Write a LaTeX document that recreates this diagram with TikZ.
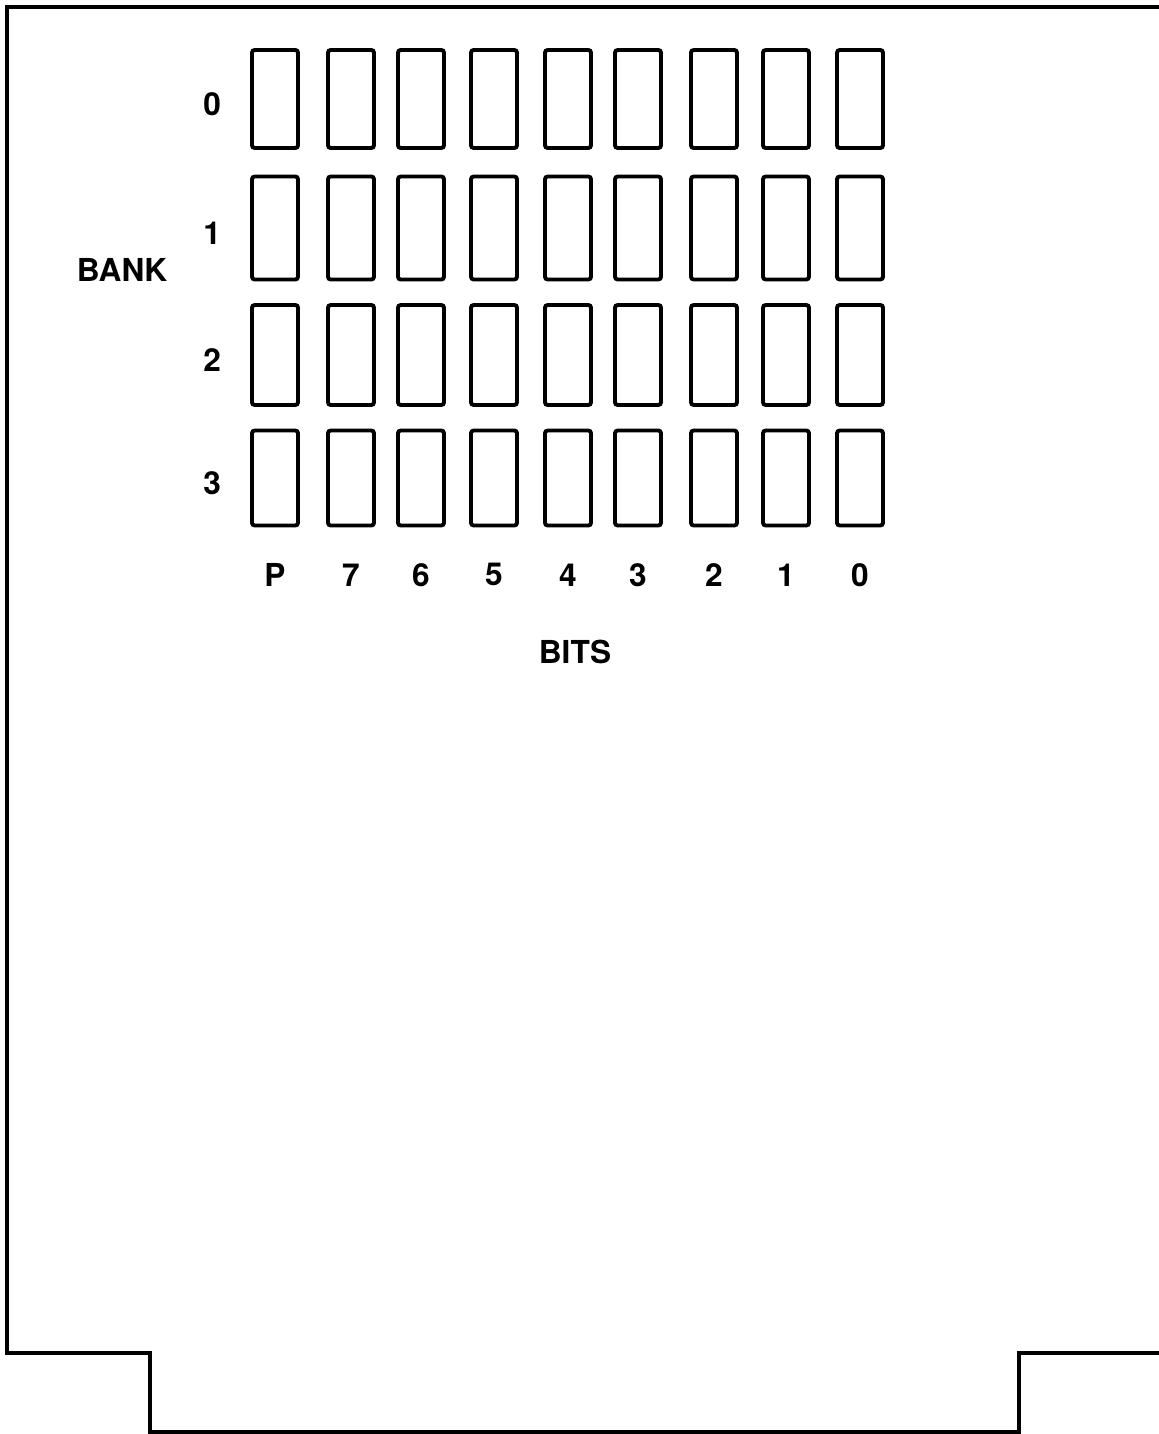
\documentclass[tikz,border=0pt]{standalone}
\usepackage{fontspec}
\setmainfont{TeX Gyre Heros}
\usetikzlibrary{positioning}

\begin{document}
\begin{tikzpicture}[x=0.02cm,y=-0.02cm,
  chip/.style={draw,line width=2.2pt,rounded corners=1.5pt,minimum width=0.92cm,inner sep=0pt},
  lbl/.style={font=\fontsize{18}{21}\selectfont\bfseries}]
\useasboundingbox (0,0) rectangle (1159,1434);
% board outline
\draw[line width=1.8pt] (1159,7) -- (7,7) -- (7,1353) -- (150,1353) -- (150,1432)
  -- (1019,1432) -- (1019,1353) -- (1159,1353);
% memory chips
\foreach \r/\y/\h in {0/99/1.96,1/228/2.06,2/355/2.0,3/478/1.9}
  \foreach \c/\x in {0/275,1/351,2/421,3/494,4/568,5/638,6/714,7/786,8/860}
    \node[chip,minimum height=\h cm] (chip\r\c) at (\x,\y) {};
% bank numbers
\foreach \r in {0,...,3}
  \node[lbl,left=13pt of chip\r0,yshift=-3pt] (bank\r) {\r};
\node[lbl] (bank) at (122,270) {BANK};
% bit labels
\foreach \c/\t in {0/P,1/7,2/6,3/5,4/4,5/3,6/2,7/1,8/0}
  \node[lbl,below=27pt of chip3\c.south,anchor=center] (bit\c) {\t};
\node[lbl] (bits) at (575,652) {BITS};
\end{tikzpicture}
\end{document}
